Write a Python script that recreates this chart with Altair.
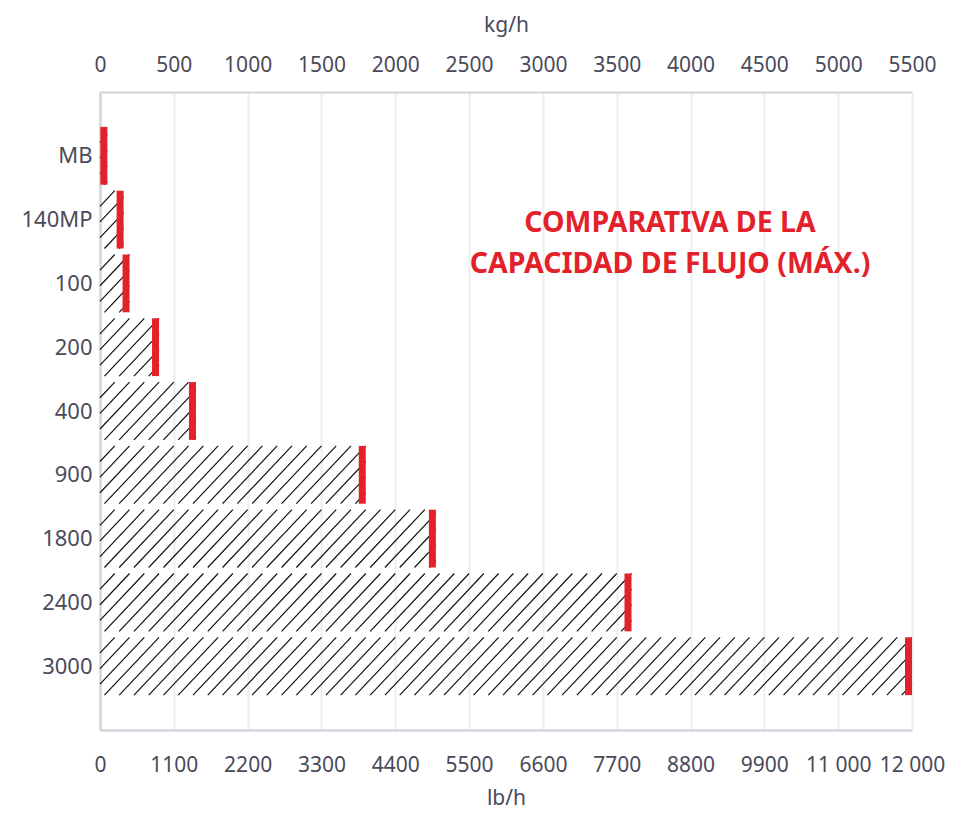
import altair as alt
import pandas as pd

# ---- data ----
names = ["MB", "140MP", "100", "200", "400", "900", "1800", "2400", "3000"]
kg_h = [50, 160, 200, 400, 650, 1800, 2275, 3600, 5500]
kg_ticks = [0, 500, 1000, 1500, 2000, 2500, 3000, 3500, 4000, 4500, 5000, 5500]
lb_labels = ["0", "1100", "2200", "3300", "4400", "5500", "6600", "7700",
             "8800", "9900", "11 000", "12 000"]
title_lines = ["COMPARATIVA DE LA", "CAPACIDAD DE FLUJO (MÁX.)"]

df = pd.DataFrame({"name": names, "idx": list(range(len(names))), "kg": kg_h})

# ---- style ----
RED = "#e3212a"
TXT = "#4a4a5a"
AXC = "#d4d4dc"
GRID = "#eeeef2"
FONT = "Noto Sans"
W, H = 812, 638
HALF = 0.453          # half bar thickness in row units
RUN = 370             # hatch horizontal run (kg units) across bar height
STEP = 100            # hatch spacing (kg units)

name_expr = "[" + ",".join("'%s'" % n for n in names) + "][round(datum.value)]"
lb_expr = "[" + ",".join("'%s'" % s for s in lb_labels) + "][round(datum.value/500)]"

xscale = alt.Scale(domain=[0, 5500], nice=False, zero=True)
yscale = alt.Scale(domain=[-1, 9], nice=False, zero=False, reverse=True)
yaxis = alt.Axis(values=list(range(len(names))), labelExpr=name_expr, title=None,
                 grid=False, ticks=False, tickSize=0, domain=True, domainColor=AXC,
                 domainWidth=2.5, labelFont=FONT, labelFontSize=22, labelColor=TXT,
                 labelPadding=8)

top_axis = alt.Axis(orient="top", values=kg_ticks, format="d", title="kg/h",
                    grid=True, gridColor=GRID, gridWidth=2, ticks=False, tickSize=0,
                    domain=True, domainColor=AXC, domainWidth=2,
                    labelFont=FONT, labelFontSize=21, labelColor=TXT, labelPadding=17,
                    labelOverlap=False, labelFlush=False,
                    titleFont=FONT, titleFontSize=21, titleFontWeight="normal",
                    titleColor=TXT, titlePadding=19)
bottom_axis = alt.Axis(orient="bottom", values=kg_ticks, labelExpr=lb_expr, title="lb/h",
                       grid=False, ticks=False, tickSize=0,
                       domain=True, domainColor=AXC, domainWidth=2.5,
                       labelFont=FONT, labelFontSize=21, labelColor=TXT, labelPadding=24,
                       labelOverlap=False, labelFlush=False,
                       titleFont=FONT, titleFontSize=21, titleFontWeight="normal",
                       titleColor=TXT, titlePadding=12)

base = alt.Chart(df)

hatch = base.transform_calculate(
    offs=f"sequence({-RUN}, datum.kg, {STEP})"
).transform_flatten(["offs"]).transform_calculate(
    xa="max(datum.offs, 0)",
    xb=f"min(datum.offs + {RUN}, datum.kg)",
).transform_filter("datum.xb > datum.xa").transform_calculate(
    ya=f"datum.idx + {HALF} - (datum.xa - datum.offs) / {RUN} * {2*HALF}",
    yb=f"datum.idx + {HALF} - (datum.xb - datum.offs) / {RUN} * {2*HALF}",
).mark_rule(color="#111111", strokeWidth=1.2).encode(
    x=alt.X("xa:Q", scale=xscale, axis=top_axis),
    x2="xb:Q",
    y=alt.Y("ya:Q", scale=yscale, axis=yaxis),
    y2="yb:Q",
)

cap = base.transform_calculate(
    y0=f"datum.idx - {HALF}", y1=f"datum.idx + {HALF}"
).mark_rule(color=RED, strokeWidth=7, xOffset=-3.5, strokeCap="butt").encode(
    x=alt.X("kg:Q", scale=xscale, axis=bottom_axis),
    y=alt.Y("y0:Q", scale=yscale, axis=yaxis),
    y2="y1:Q",
)

title = alt.Chart(pd.DataFrame({"t": [0]})).mark_text(
    text=title_lines, font=FONT, fontSize=28.5, fontWeight="bold", color=RED,
    align="center", baseline="middle", lineHeight=41,
).encode(x=alt.value(570), y=alt.value(131))

chart = alt.layer(hatch, cap, title).resolve_axis(x="independent").properties(
    width=W, height=H,
    autosize=alt.AutoSizeParams(type="none"),
    padding={"left": 92, "top": 84, "right": 50, "bottom": 80},
).configure_view(stroke=None)

chart.save("out.html", embed_options={"renderer": "svg", "actions": False})
